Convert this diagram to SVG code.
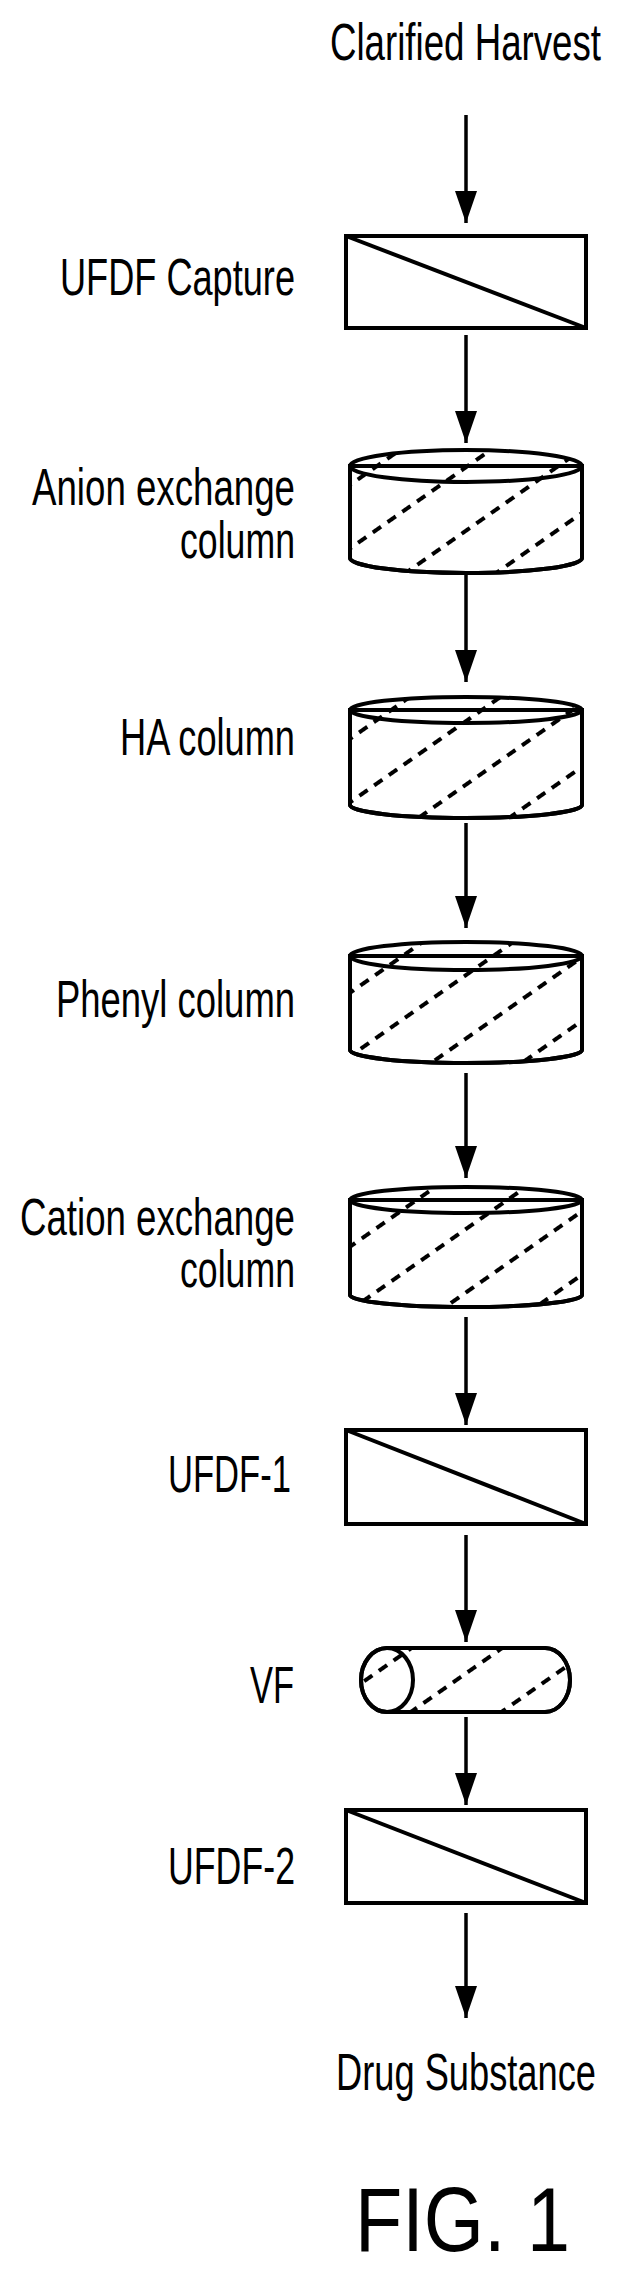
<svg xmlns="http://www.w3.org/2000/svg" width="623" height="2273" viewBox="0 0 623 2273">
<style>
text{font-family:"Liberation Sans",Arial,sans-serif;font-size:52px;fill:#000}
.b{fill:#fff;stroke:#000;stroke-width:4}
.o{fill:none;stroke:#000;stroke-width:4}
.h{fill:url(#hatch);stroke:none}
.c{stroke:#000;stroke-width:3.5;fill:none}
</style>
<defs>
<marker id="ah" markerUnits="userSpaceOnUse" markerWidth="32" markerHeight="22" refX="32" refY="11" orient="auto"><path d="M0,0 L32,11 L0,22 z" fill="#000"/></marker>
<pattern id="hatch" patternUnits="userSpaceOnUse" width="18" height="52" patternTransform="rotate(-35)"><line x1="0" y1="26" x2="10" y2="26" stroke="#000" stroke-width="4"/></pattern>
</defs>
<text x="330" y="60" textLength="271" lengthAdjust="spacingAndGlyphs">Clarified Harvest</text>
<g id="ufdf-capture">
<rect class="b" x="346" y="236" width="240" height="92"/>
<line class="o" x1="346" y1="236" x2="586" y2="328"/>
<text x="60" y="295" textLength="235" lengthAdjust="spacingAndGlyphs">UFDF Capture</text>
</g>
<g id="anion">
<path class="b" d="M350,466 L350,558 A116,15 0 0 0 582,558 L582,466 z"/>
<path class="h" d="M350,466 A116,16 0 0 1 582,466 L582,558 A116,15 0 0 1 350,558 z"/>
<path class="o" d="M350,466 L350,558 A116,15 0 0 0 582,558 L582,466"/>
<ellipse class="o" cx="466" cy="466" rx="116" ry="16"/>
<text x="32" y="505" textLength="263" lengthAdjust="spacingAndGlyphs">Anion exchange</text>
<text x="180" y="558" textLength="115" lengthAdjust="spacingAndGlyphs">column</text>
</g>
<g id="ha">
<path class="b" d="M350,710 L350,805 A116,13 0 0 0 582,805 L582,710 z"/>
<path class="h" d="M350,710 A116,13 0 0 1 582,710 L582,805 A116,13 0 0 1 350,805 z"/>
<path class="o" d="M350,710 L350,805 A116,13 0 0 0 582,805 L582,710"/>
<ellipse class="o" cx="466" cy="710" rx="116" ry="13"/>
<text x="120" y="755" textLength="175" lengthAdjust="spacingAndGlyphs">HA column</text>
</g>
<g id="phenyl">
<path class="b" d="M350,956 L350,1050 A116,13 0 0 0 582,1050 L582,956 z"/>
<path class="h" d="M350,956 A116,14 0 0 1 582,956 L582,1050 A116,13 0 0 1 350,1050 z"/>
<path class="o" d="M350,956 L350,1050 A116,13 0 0 0 582,1050 L582,956"/>
<ellipse class="o" cx="466" cy="956" rx="116" ry="14"/>
<text x="56" y="1017" textLength="239" lengthAdjust="spacingAndGlyphs">Phenyl column</text>
</g>
<g id="cation">
<path class="b" d="M350,1200 L350,1295 A116,12 0 0 0 582,1295 L582,1200 z"/>
<path class="h" d="M350,1200 A116,13 0 0 1 582,1200 L582,1295 A116,12 0 0 1 350,1295 z"/>
<path class="o" d="M350,1200 L350,1295 A116,12 0 0 0 582,1295 L582,1200"/>
<ellipse class="o" cx="466" cy="1200" rx="116" ry="13"/>
<text x="20" y="1235" textLength="275" lengthAdjust="spacingAndGlyphs">Cation exchange</text>
<text x="180" y="1287" textLength="115" lengthAdjust="spacingAndGlyphs">column</text>
</g>
<g id="ufdf1">
<rect class="b" x="346" y="1430" width="240" height="94"/>
<line class="o" x1="346" y1="1430" x2="586" y2="1524"/>
<text x="168" y="1492" textLength="123" lengthAdjust="spacingAndGlyphs">UFDF-1</text>
</g>
<g id="vf">
<path class="b" d="M387,1648 L545,1648 A25,32 0 0 1 545,1712 L387,1712 A26,32 0 0 1 387,1648 z"/>
<path class="h" d="M387,1648 L545,1648 A25,32 0 0 1 545,1712 L387,1712 A26,32 0 0 1 387,1648 z"/>
<path class="o" d="M387,1648 L545,1648 A25,32 0 0 1 545,1712 L387,1712"/>
<ellipse class="o" cx="387" cy="1680" rx="26" ry="32"/>
<text x="250" y="1703" textLength="44" lengthAdjust="spacingAndGlyphs">VF</text>
</g>
<g id="ufdf2">
<rect class="b" x="346" y="1810" width="240" height="93"/>
<line class="o" x1="346" y1="1810" x2="586" y2="1903"/>
<text x="168" y="1884" textLength="127" lengthAdjust="spacingAndGlyphs">UFDF-2</text>
</g>
<text x="336" y="2090" textLength="260" lengthAdjust="spacingAndGlyphs">Drug Substance</text>
<text x="355" y="2251" style="font-size:90px" textLength="215" lengthAdjust="spacingAndGlyphs">FIG. 1</text>
<g id="connectors">
<line class="c" x1="466" y1="115" x2="466" y2="223" marker-end="url(#ah)"/>
<line class="c" x1="466" y1="335" x2="466" y2="443" marker-end="url(#ah)"/>
<line class="c" x1="466" y1="575" x2="466" y2="682" marker-end="url(#ah)"/>
<line class="c" x1="466" y1="823" x2="466" y2="928" marker-end="url(#ah)"/>
<line class="c" x1="466" y1="1073" x2="466" y2="1178" marker-end="url(#ah)"/>
<line class="c" x1="466" y1="1317" x2="466" y2="1425" marker-end="url(#ah)"/>
<line class="c" x1="466" y1="1535" x2="466" y2="1642" marker-end="url(#ah)"/>
<line class="c" x1="466" y1="1717" x2="466" y2="1805" marker-end="url(#ah)"/>
<line class="c" x1="466" y1="1913" x2="466" y2="2018" marker-end="url(#ah)"/>
</g>
</svg>
